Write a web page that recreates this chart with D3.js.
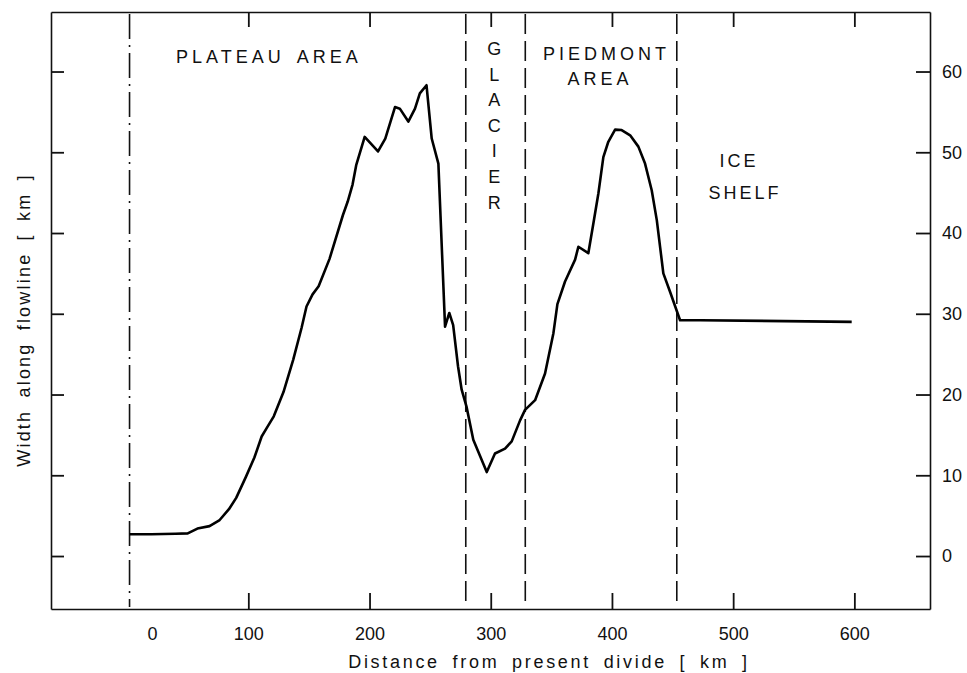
<!DOCTYPE html>
<html>
<head>
<meta charset="utf-8">
<script src="https://cdn.jsdelivr.net/npm/d3@7"></script>
<style>
  body { margin: 0; background: #fff; }
  svg text { font-family: "Liberation Sans", Arial, sans-serif; fill: #111; }
</style>
</head>
<body>
<div id="plot1"></div>
<script>
// width of the flowline (km along, km wide)
const distanceKm = [2, 20, 40, 50, 58, 68, 76, 84, 90, 98, 105, 111, 115, 121, 129, 137, 144, 148, 153, 158,
  167, 178, 182, 186, 189, 196, 207, 213, 221, 225, 232, 237.5, 241.5, 247, 251.3, 256.8, 262.3, 265.8, 269,
  273, 276, 280, 285.6, 296.7, 303.5, 311.8, 317.3, 324.2, 328.3, 336.6, 344.8, 351.7, 355, 361.3, 369.6,
  372.3, 380.5, 384.7, 388.8, 392.9, 397, 402.6, 408, 415, 421.8, 427.3, 432.8, 437, 442.4, 448, 456.2,
  472.7, 597.8];
const widthKm = [2.7, 2.7, 2.75, 2.8, 3.4, 3.7, 4.4, 5.8, 7.2, 9.8, 12.2, 14.8, 15.8, 17.3, 20.3, 24.3, 28.3,
  30.9, 32.4, 33.4, 36.8, 42.2, 43.9, 46.0, 48.4, 51.9, 50.1, 51.7, 55.6, 55.4, 53.8, 55.4, 57.3, 58.3, 51.7,
  48.6, 28.4, 30.1, 28.6, 23.5, 20.6, 18.5, 14.4, 10.4, 12.7, 13.3, 14.2, 16.8, 18.1, 19.3, 22.6, 27.6, 31.2,
  34.0, 36.7, 38.3, 37.5, 41.2, 44.9, 49.4, 51.3, 52.8, 52.75, 52.1, 50.7, 48.6, 45.3, 41.6, 35.0, 32.7, 29.2,
  29.2, 29.0];

const xTicks = [100, 200, 300, 400, 500, 600];
const xLabels = [0, 100, 200, 300, 400, 500, 600];
const yTicks = [0, 10, 20, 30, 40, 50, 60];

// boundaries between zones
const dividerKm = [2, 279.4, 328.5, 453.5];
const dividerKind = ["dashdot", "dash", "dash", "dash"];

// zone names, placed in data units
const zoneText = ["PLATEAU AREA", "PIEDMONT", "AREA", "ICE", "SHELF"];
const zoneX = [117, 395.6, 390.2, 504.9, 509.8];
const zoneY = [61.05, 61.4, 58.3, 48.2, 44.2];
const zoneSpacing = [4, 4, 4, 3, 3];
const glacierLetters = ["G", "L", "A", "C", "I", "E", "R"];
const glacierX = 302.8;
const glacierY = [62.0, 58.8, 55.7, 52.5, 49.4, 46.2, 43.0];

const width = 967;
const height = 673;
const marginTop = 12;
const marginRight = 37;
const marginBottom = 64;
const marginLeft = 51;

const x = d3.scaleLinear()
  .domain([-62.8, 662.4])
  .range([marginLeft, width - marginRight]);

const y = d3.scaleLinear()
  .domain([-6.56, 67.37])
  .range([height - marginBottom, marginTop]);

const svg = d3.create("svg")
  .attr("width", width)
  .attr("height", height)
  .attr("viewBox", [0, 0, width, height]);

// bottom axis: inward ticks, labels below
svg.append("g")
  .attr("transform", `translate(0,${height - marginBottom})`)
  .call(d3.axisBottom(x).tickValues(xTicks).tickSizeInner(-16).tickSizeOuter(0).tickFormat(""));
svg.append("g")
  .attr("transform", `translate(0,${height - marginBottom})`)
  .call(d3.axisBottom(x).tickValues(xLabels).tickSize(0).tickPadding(18))
  .call(g => g.select(".domain").remove())
  .selectAll("text")
  .attr("dx", d => d === 0 ? 25 : 0) // the "0" sits off its position in the original
  .style("font-size", "18px");

// top axis
svg.append("g")
  .attr("transform", `translate(0,${marginTop})`)
  .call(d3.axisTop(x).tickValues(xTicks).tickSizeInner(-15).tickSizeOuter(0).tickFormat(""));

// left axis, no labels
svg.append("g")
  .attr("transform", `translate(${marginLeft},0)`)
  .call(d3.axisLeft(y).tickValues(yTicks).tickSizeInner(-13).tickSizeOuter(0).tickFormat(""));

// right axis with labels
svg.append("g")
  .attr("transform", `translate(${width - marginRight},0)`)
  .call(d3.axisRight(y).tickValues(yTicks).tickSizeInner(-14).tickSizeOuter(0).tickPadding(12))
  .selectAll("text")
  .style("font-size", "18px");

svg.selectAll(".domain").attr("stroke", "#111").attr("stroke-width", 1.6);
svg.selectAll(".tick line").attr("stroke", "#111").attr("stroke-width", 1.8);

// zone boundaries
svg.append("g")
  .selectAll("line")
  .data(dividerKm)
  .join("line")
  .attr("x1", d => x(d))
  .attr("x2", d => x(d))
  .attr("y1", y.range()[1] + 2)
  .attr("y2", y.range()[0] - 2)
  .attr("stroke", "#111")
  .attr("stroke-width", 1.6)
  .attr("stroke-dasharray", (d, i) => dividerKind[i] === "dashdot" ? "25,6,2,6" : "20,7");

// the width curve
const line = d3.line((d, i) => x(distanceKm[i]), (d, i) => y(widthKm[i]));
svg.append("path")
  .attr("d", line(distanceKm))
  .attr("fill", "none")
  .attr("stroke", "#000")
  .attr("stroke-width", 2.6)
  .attr("stroke-linejoin", "round");

// zone names
svg.append("g")
  .selectAll("text")
  .data(zoneText)
  .join("text")
  .attr("x", (d, i) => x(zoneX[i]))
  .attr("y", (d, i) => y(zoneY[i]))
  .attr("text-anchor", "middle")
  .style("font-size", "18px")
  .style("letter-spacing", (d, i) => zoneSpacing[i] + "px")
  .style("word-spacing", "4px")
  .text(d => d);

svg.append("g")
  .selectAll("text")
  .data(glacierLetters)
  .join("text")
  .attr("x", x(glacierX))
  .attr("y", (d, i) => y(glacierY[i]))
  .attr("text-anchor", "middle")
  .style("font-size", "18px")
  .text(d => d);

// axis titles
svg.append("text")
  .attr("x", 549)
  .attr("y", 668)
  .attr("text-anchor", "middle")
  .style("font-size", "18px")
  .style("letter-spacing", "2.7px")
  .style("word-spacing", "5px")
  .text("Distance from present divide [ km ]");

svg.append("text")
  .attr("transform", "translate(30,320) rotate(-90)")
  .attr("text-anchor", "middle")
  .style("font-size", "18px")
  .style("letter-spacing", "2.2px")
  .style("word-spacing", "5px")
  .text("Width along flowline [ km ]");

document.querySelector("#plot1").append(svg.node());
</script>
</body>
</html>
